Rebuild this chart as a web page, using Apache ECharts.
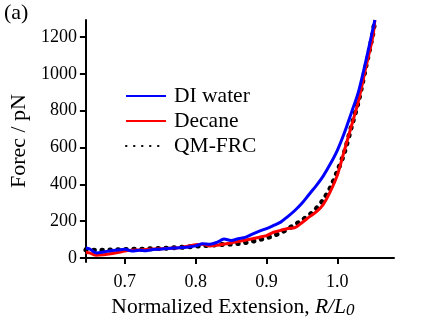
<!DOCTYPE html>
<html>
<head>
<meta charset="utf-8">
<script src="https://cdn.jsdelivr.net/npm/echarts@6/dist/echarts.min.js"></script>
<style>
  html, body { margin: 0; padding: 0; background: #fff; }
  #chart { width: 432px; height: 324px; }
</style>
</head>
<body>
<div id="chart"></div>
<script>
// Normalized extension R/L0 sampled for every curve
const extension = [0.645, 0.65, 0.66, 0.67, 0.68, 0.69, 0.70, 0.71, 0.72, 0.73, 0.74,
  0.75, 0.76, 0.77, 0.78, 0.79, 0.80, 0.81, 0.82, 0.83, 0.84, 0.85, 0.86, 0.87, 0.88,
  0.89, 0.90, 0.91, 0.92, 0.93, 0.94, 0.95, 0.96, 0.97, 0.98, 0.99, 1.00, 1.01, 1.02,
  1.03, 1.04, 1.05, 1.053];

// Force (pN) in DI water
const diWater = [55, 50, 28, 33, 40, 44, 48, 38, 42, 40, 47,
  48, 52, 54, 57, 60, 66, 78, 75, 85, 103, 95, 105, 112, 130,
  146, 160, 177, 195, 225, 258, 297, 345, 392, 445, 510, 585, 680, 790,
  905, 1065, 1240, 1292];

// Force (pN) in decane
const decane = [32, 28, 15, 18, 23, 30, 38, 42, 44, 47, 49,
  50, 52, 54, 58, 65, 72, 75, 66, 70, 76, 82, 90, 97, 105,
  113, 122, 140, 150, 160, 165, 192, 222, 250, 290, 360, 450, 585, 718,
  855, 1030, 1200, 1292];

// QM-FRC model curve
const qmFrc = [45, 43, 42, 43, 44, 45, 46, 47, 48, 49, 51,
  52, 54, 56, 58, 61, 64, 67, 70, 72, 74, 76, 79, 84, 91,
  100, 110, 122, 138, 158, 180, 205, 232, 268, 315, 380, 470, 575, 715,
  855, 1035, 1215, 1292];

const xTicks = [0.7, 0.8, 0.9, 1.0];
const yTicks = [0, 200, 400, 600, 800, 1000, 1200];

const pairs = ys => extension.map((x, i) => [x, ys[i]]);
const serif = 'Liberation Serif';

const chart = echarts.init(document.getElementById('chart'), null, { renderer: 'canvas' });

chart.setOption({
  animation: false,
  backgroundColor: '#fff',
  textStyle: { fontFamily: serif },
  title: {
    text: '(a)',
    left: 4,
    top: 2,
    padding: 0,
    textStyle: { fontFamily: serif, fontSize: 22, fontWeight: 'normal', color: '#000' }
  },
  grid: { left: 71, right: 38, top: 20, bottom: 61 },
  legend: {
    orient: 'vertical',
    left: 125,
    top: 85,
    padding: 0,
    itemGap: 3,
    itemWidth: 40,
    itemHeight: 20,
    itemStyle: { opacity: 0 },
    textStyle: { fontFamily: serif, fontSize: 21.5, color: '#000', lineHeight: 21, padding: [0, 0, 0, 3] },
    data: ['DI water', 'Decane', 'QM-FRC']
  },
  xAxis: {
    type: 'value',
    min: 0.645,
    max: 1.08,
    splitLine: { show: false },
    axisLine: { lineStyle: { color: '#000', width: 2 } },
    axisTick: { customValues: xTicks, length: 6, lineStyle: { color: '#000', width: 2 } },
    axisLabel: {
      customValues: xTicks,
      formatter: v => v.toFixed(1),
      fontFamily: serif, fontSize: 18, color: '#000', margin: 11
    },
    name: '{a|Normalized Extension, }{i|R/L}{s|0}',
    nameLocation: 'middle',
    nameGap: 33,
    nameTextStyle: {
      padding: [0, 14, 0, 0],
      rich: {
        a: { fontFamily: serif, fontSize: 21.5, color: '#000', lineHeight: 21, verticalAlign: 'top' },
        i: { fontFamily: serif, fontSize: 21.5, fontStyle: 'italic', color: '#000', lineHeight: 21, verticalAlign: 'top' },
        s: { fontFamily: serif, fontSize: 17, fontStyle: 'italic', color: '#000', lineHeight: 21, verticalAlign: 'top', padding: [6, 0, 0, 0] }
      }
    }
  },
  yAxis: {
    type: 'value',
    min: -22,
    max: 1292,
    splitLine: { show: false },
    axisLine: { lineStyle: { color: '#000', width: 2 } },
    axisTick: { customValues: yTicks, length: 6, lineStyle: { color: '#000', width: 2 } },
    axisLabel: {
      customValues: yTicks,
      formatter: v => String(v),
      fontFamily: serif, fontSize: 18, color: '#000', margin: 9
    },
    name: 'Forec / pN',
    nameLocation: 'middle',
    nameGap: 48,
    nameTextStyle: { fontFamily: serif, fontSize: 22, color: '#000' }
  },
  series: [
    {
      name: 'QM-FRC',
      type: 'line',
      data: pairs(qmFrc),
      symbol: 'none',
      smooth: 0.3,
      color: '#000',
      lineStyle: { color: '#000', width: 5, type: [0.5, 7.5], cap: 'round' },
      z: 2
    },
    {
      name: 'Decane',
      type: 'line',
      data: pairs(decane),
      symbol: 'none',
      smooth: 0.3,
      color: '#ff0000',
      lineStyle: { color: '#ff0000', width: 3 },
      z: 3
    },
    {
      name: 'DI water',
      type: 'line',
      data: pairs(diWater),
      symbol: 'none',
      smooth: 0.3,
      color: '#0000ff',
      lineStyle: { color: '#0000ff', width: 3 },
      z: 4
    }
  ]
});
</script>
</body>
</html>
